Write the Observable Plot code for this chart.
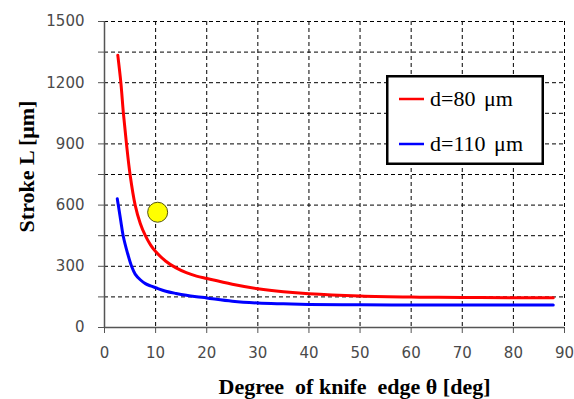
<!DOCTYPE html>
<html>
<head>
<meta charset="utf-8">
<script src="https://cdn.jsdelivr.net/npm/d3@7"></script>
<script src="https://cdn.jsdelivr.net/npm/@observablehq/plot@0.6"></script>
<style>
  html, body { margin: 0; padding: 0; background: #fff; }
</style>
</head>
<body>
<div id="wrap"></div>
<script>
// ---- data ----
const thetaRed = [2.6, 3.2, 3.7, 4.3, 5, 6, 7, 8, 9, 10, 12, 14, 16, 18, 20, 25, 30, 35, 40, 50, 60, 70, 80, 87.8];
const strokeRed = [1335, 1200, 1050, 900, 750, 600, 510, 450, 405, 372, 325, 292, 269, 252, 240, 212, 190, 175, 165, 154, 149, 147, 146, 146];
const thetaBlue = [2.5, 2.7, 3.2, 3.65, 4.5, 5.3, 6, 7, 8, 9, 10, 12, 14, 16, 18, 20, 25, 30, 35, 40, 50, 60, 70, 80, 87.8];
const strokeBlue = [631, 600, 520, 450, 365, 300, 262, 234, 215, 204, 195, 178, 167, 158, 151, 145, 129, 120, 116, 113, 111, 110, 110, 110, 110];
const markerTheta = [10.4];
const markerStroke = [565];
const seriesNames = ["d=80 \u03bcm", "d=110 \u03bcm"];
const seriesColors = ["#ff0000", "#0000ff"];
const xTicks = [0, 10, 20, 30, 40, 50, 60, 70, 80, 90];
const yTicks = [0, 150, 300, 450, 600, 750, 900, 1050, 1200, 1350, 1500];
const yLabelTicks = [0, 300, 600, 900, 1200, 1500];
const xTitle = "Degree  of knife  edge \u03b8 [deg]";
const yTitle = "Stroke L [\u03bcm]";

const red = thetaRed.map((t, i) => ({theta: t, L: strokeRed[i]}));
const blue = thetaBlue.map((t, i) => ({theta: t, L: strokeBlue[i]}));
const marker = markerTheta.map((t, i) => ({theta: t, L: markerStroke[i]}));

const grid = {stroke: "#000", strokeOpacity: 1, strokeWidth: 1, strokeDasharray: "4,3"};
const serif = "Liberation Serif";

const chart = Plot.plot({
  width: 574,
  height: 399,
  marginLeft: 104,
  marginRight: 10,
  marginTop: 21,
  marginBottom: 72,
  style: {background: "#fff", fontFamily: "DejaVu Sans, sans-serif", fontSize: "15px", color: "#4a4a4a"},
  x: {domain: [0, 90]},
  y: {domain: [0, 1500]},
  marks: [
    Plot.gridX(xTicks.filter(d => d > 0), grid),
    Plot.gridY(yTicks.filter(d => d > 0), grid),
    Plot.axisX(xTicks, {tickSize: 6, tickPadding: 14, label: null, stroke: "#555", fill: "#4a4a4a"}),
    Plot.axisY(yTicks, {tickSize: 6, tickPadding: 14, label: null, stroke: "#555", fill: "#4a4a4a",
      tickFormat: d => yLabelTicks.includes(d) ? String(d) : ""}),
    Plot.ruleX([0], {stroke: "#555", strokeWidth: 1.5}),
    Plot.ruleY([0], {stroke: "#555", strokeWidth: 1.5}),
    Plot.line(red, {x: "theta", y: "L", stroke: seriesColors[0], strokeWidth: 3, curve: "catmull-rom"}),
    Plot.line(blue, {x: "theta", y: "L", stroke: seriesColors[1], strokeWidth: 3, curve: "catmull-rom"}),
    Plot.dot(marker, {x: "theta", y: "L", r: 10, fill: "#ffff00", stroke: "#55550a", strokeWidth: 1}),
    // axis titles
    Plot.text([xTitle], {text: d => d, frameAnchor: "bottom", textAnchor: "middle", lineAnchor: "middle", dx: 20, dy: 59,
      fontFamily: serif, fontWeight: "bold", fontSize: 22, fill: "#000"}),
    Plot.text([yTitle], {text: d => d, frameAnchor: "left", textAnchor: "middle", lineAnchor: "middle", rotate: -90, dx: -78, dy: -8,
      fontFamily: serif, fontWeight: "bold", fontSize: 22, fill: "#000"})
  ]
});

document.getElementById("wrap").appendChild(chart);

// legend (drawn into the same SVG)
const svg = d3.select(chart);
const lg = svg.append("g").attr("aria-label", "legend");
lg.append("rect")
  .attr("x", 387.25).attr("y", 76.25).attr("width", 155.5).attr("height", 87.5)
  .attr("fill", "#fff").attr("stroke", "#000").attr("stroke-width", 2.5);
seriesNames.forEach((name, i) => {
  const cy = 99 + i * 45;
  lg.append("line")
    .attr("x1", 399).attr("x2", 424).attr("y1", cy).attr("y2", cy)
    .attr("stroke", seriesColors[i]).attr("stroke-width", 2.5);
  lg.append("text")
    .attr("x", 430).attr("y", cy + 7)
    .attr("text-anchor", "start")
    .attr("font-family", serif).attr("font-size", 22).attr("fill", "#000")
    .style("word-spacing", "3px")
    .text(name);
});
</script>
</body>
</html>
